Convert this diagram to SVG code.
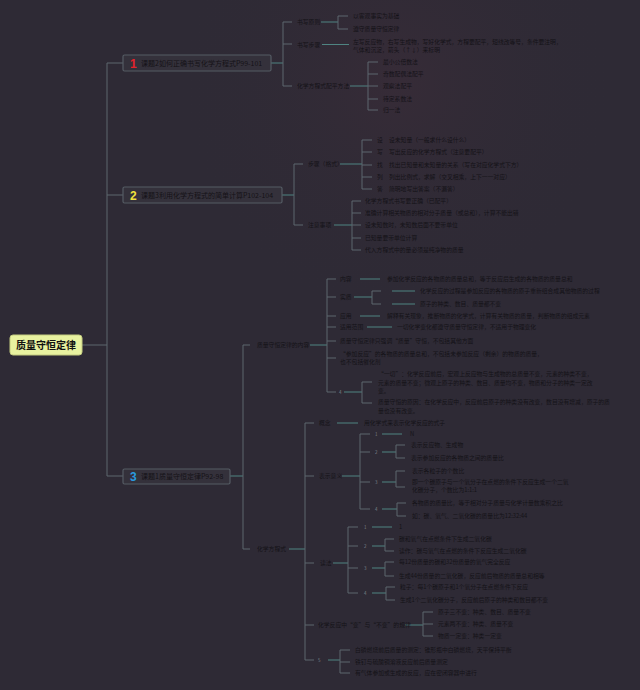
<svg xmlns="http://www.w3.org/2000/svg" width="640" height="690" viewBox="0 0 640 690">
<style>
.bg{fill:#2e2a35}
.b{stroke:#5d666e;stroke-width:1;fill:none}
.t{stroke:#4f8482;stroke-width:1;fill:none}
.box{fill:#34313b;stroke:#555c64;stroke-width:1.2}
.root{fill:#e8f2a0;stroke:#c4cc80;stroke-width:1}
text{font-family:"Noto Sans CJK SC","Liberation Sans",sans-serif}
.l{font-size:5.8px;fill:#141217}
.s{font-size:7px;fill:#141217}
.n{font-size:12px;font-weight:bold;font-family:"Liberation Sans","Noto Sans CJK SC",sans-serif}
.m{font-size:4.5px;fill:#7d838a}
.r{font-size:10px;font-weight:bold;fill:#111}
</style>
<defs>
<radialGradient id="tint" cx="0.62" cy="0.12" r="0.35">
<stop offset="0" stop-color="#3a2c38" stop-opacity="0.7"/>
<stop offset="1" stop-color="#2e2a35" stop-opacity="0"/>
</radialGradient>
</defs>
<rect class="bg" x="0" y="0" width="640" height="690"/>
<rect x="0" y="0" width="640" height="690" fill="url(#tint)"/>

<g id="connectors">
<path class="b" d="M82,345H107M107,63V476M107,63H123M107,195H123M107,476H123"/>
<path class="t" d="M271,63H283"/>
<path class="b" d="M283,22V86M283,22H292M283,44H292M283,86H292"/>
<path class="t" d="M321,22H338M322,44.5H349M350,86H368"/>
<path class="b" d="M338,16V29M338,16H348M338,29H348"/>
<path class="b" d="M368,62V110M368,62H378M368,74H378M368,86H378M368,99H378M368,110H378"/>
<path class="t" d="M282,195H294"/>
<path class="b" d="M294,164V225M294,164H303M294,225H303"/>
<path class="t" d="M340,164H362M334,225H352"/>
<path class="b" d="M362,140V189M362,140H372M362,152H372M362,165H372M362,177H372M362,189H372"/>
<path class="b" d="M352,201V250M352,201H361M352,213H361M352,225H361M352,238H361M352,250H361"/>
<path class="t" d="M230,476H243"/>
<path class="b" d="M243,345V549M243,345H250M243,549H250"/>
<path class="t" d="M310,345H327"/>
<path class="b" d="M327,279V392M327,279H336M327,297H336M327,316H336M327,327H336M327,341H336M327,358H336M327,392H336"/>
<path class="t" d="M360,279H380M354,297H372M392,291H415M392,304H415M360,316H380M367,327H392M344,392H362"/>
<path class="b" d="M372,291V304M372,291H381M372,304H381"/>
<path class="b" d="M362,382V403M362,382H372M362,403H372"/>
<path class="t" d="M289,549H305"/>
<path class="b" d="M305,423V660M305,423H314M305,476H314M305,563H314M305,625H314M305,660H314"/>
<path class="t" d="M337,423H358M342,476H360"/>
<path class="b" d="M360,434V509M360,434H370M360,452H370M360,482H370M360,509H370"/>
<path class="t" d="M382,434H402M382,452H396M382,482H396M382,509H397"/>
<path class="b" d="M396,445V458M396,445H405M396,458H405M396,471V487M396,471H405M396,487H405M397,503V516M397,503H406M397,516H406"/>
<path class="t" d="M333,563H348"/>
<path class="b" d="M348,527V593M348,527H358M348,546H358M348,568H358M348,593H358"/>
<path class="t" d="M372,527H392M372,546H385M372,568H385M372,593H386"/>
<path class="b" d="M385,539V551M385,539H394M385,551H394M385,562V576M385,562H394M385,576H394M386,587V600M386,587H395M386,600H395"/>
<path class="t" d="M405,625H423M328,660H340"/>
<path class="b" d="M423,612V636M423,612H433M423,624H433M423,636H433"/>
<path class="b" d="M340,650V673M340,650H350M340,662H350M340,673H350"/>
</g>

<g id="root">
<rect class="root" x="10" y="335" width="72" height="20" rx="3"/>
<text class="r" x="46" y="348.8" text-anchor="middle">质量守恒定律</text>
</g>

<g id="sec1">
<rect class="box" x="123" y="55" width="148" height="16" rx="1.5"/>
<text class="n" x="130" y="67.5" fill="#e3222c">1</text>
<text class="s" x="141" y="65.5">课题2如何正确书写化学方程式P99-101</text>
</g>
<g id="sec1-a">
<text class="l" x="297" y="24">书写原则</text>
<text class="l" x="353" y="18">以客观事实为基础</text>
<text class="l" x="353" y="31">遵守质量守恒定律</text>
</g>
<g id="sec1-b">
<text class="l" x="297" y="46.5">书写步骤</text>
<text class="l" x="353" y="44">左写反应物，右写生成物，写好化学式，方程要配平，短线改等号，条件要注明，</text>
<text class="l" x="353" y="52">气体和沉淀，箭头（↑↓）来标明</text>
</g>
<g id="sec1-c">
<text class="l" x="297" y="88">化学方程式配平方法</text>
<text class="l" x="383" y="64">最小公倍数法</text>
<text class="l" x="383" y="76">奇数配偶法配平</text>
<text class="l" x="383" y="88">观察法配平</text>
<text class="l" x="383" y="101">待定系数法</text>
<text class="l" x="383" y="112">归一法</text>
</g>

<g id="sec2">
<rect class="box" x="123" y="187" width="159" height="16" rx="1.5"/>
<text class="n" x="130" y="199.5" fill="#f0e23c">2</text>
<text class="s" x="141" y="197.5">课题3利用化学方程式的简单计算P102-104</text>
</g>
<g id="sec2-a">
<text class="l" x="308" y="166">步骤（格式）</text>
<text class="l" x="377" y="142">设</text><text class="l" x="389" y="142">设未知量（一般求什么设什么）</text>
<text class="l" x="377" y="154">写</text><text class="l" x="389" y="154">写出反应的化学方程式（注意要配平）</text>
<text class="l" x="377" y="167">找</text><text class="l" x="389" y="167">找出已知量和未知量的关系（写在对应化学式下方）</text>
<text class="l" x="377" y="179">列</text><text class="l" x="389" y="179">列出比例式，求解（交叉相乘，上下一一对应）</text>
<text class="l" x="377" y="191">答</text><text class="l" x="389" y="191">简明地写出答案（不漏答）</text>
</g>
<g id="sec2-b">
<text class="l" x="308" y="227">注意事项</text>
<text class="l" x="365" y="203">化学方程式书写要正确（已配平）</text>
<text class="l" x="365" y="215">准确计算相关物质的相对分子质量（或总和），计算不能出错</text>
<text class="l" x="365" y="227">设未知数时，未知数后面不要带单位</text>
<text class="l" x="365" y="240">已知量要带单位计算</text>
<text class="l" x="365" y="252">代入方程式中的量必须是纯净物的质量</text>
</g>

<g id="sec3">
<rect class="box" x="123" y="469" width="107" height="15" rx="1.5"/>
<text class="n" x="130" y="481" fill="#2a9be0">3</text>
<text class="s" x="141" y="479">课题1质量守恒定律P92-98</text>
</g>
<g id="sec3-a">
<text class="l" x="257" y="347">质量守恒定律的内容</text>
<text class="l" x="340" y="281">内容</text>
<text class="l" x="387" y="281">参加化学反应的各物质的质量总和，等于反应后生成的各物质的质量总和</text>
<text class="l" x="340" y="299">实质</text>
<text class="l" x="420" y="293">化学反应的过程是参加反应的各物质的原子重新组合成其他物质的过程</text>
<text class="l" x="420" y="306">原子的种类、数目、质量都不变</text>
<text class="l" x="340" y="318">应用</text>
<text class="l" x="387" y="318">解释有关现象，推断物质的化学式，计算有关物质的质量，判断物质的组成元素</text>
<text class="l" x="340" y="329">适用范围</text>
<text class="l" x="397" y="329">一切化学变化都遵守质量守恒定律，不适用于物理变化</text>
<text class="l" x="340" y="343">质量守恒定律只强调“质量”守恒，不包括其他方面</text>
<text class="l" x="340" y="356">“参加反应”的各物质的质量总和，不包括未参加反应（剩余）的物质的质量，</text>
<text class="l" x="340" y="364">也不包括催化剂</text>
<text class="m" x="339" y="394">4</text>
<text class="l" x="378" y="376">“一切”：化学反应前后，宏观上反应物与生成物的总质量不变，元素的种类不变，</text>
<text class="l" x="378" y="385">元素的质量不变；微观上原子的种类、数目、质量均不变，物质和分子的种类一定改</text>
<text class="l" x="378" y="393">变。</text>
<text class="l" x="378" y="404">质量守恒的原因：在化学反应中，反应前后原子的种类没有改变，数目没有增减，原子的质</text>
<text class="l" x="378" y="413">量也没有改变。</text>
</g>
<g id="sec3-b">
<text class="l" x="257" y="551">化学方程式</text>
<text class="l" x="319" y="425">概念</text>
<text class="l" x="364" y="425">用化学式来表示化学反应的式子</text>
</g>
<g id="sec3-b-meaning">
<text class="l" x="319" y="478">表示意义</text>
<text class="m" x="375" y="436">1</text>
<text class="l" x="410" y="436">N</text>
<text class="m" x="375" y="454">2</text>
<text class="l" x="411" y="447">表示反应物、生成物</text>
<text class="l" x="411" y="460">表示参加反应的各物质之间的质量比</text>
<text class="m" x="375" y="484">3</text>
<text class="l" x="412" y="472.5">表示各粒子的个数比</text>
<text class="l" x="412" y="483.5">即一个碳原子与一个氧分子在点燃的条件下反应生成一个二氧</text>
<text class="l" x="412" y="491.5">化碳分子，个数比为1:1:1</text>
<text class="m" x="375" y="511">4</text>
<text class="l" x="412" y="505">各物质的质量比，等于相对分子质量与化学计量数乘积之比</text>
<text class="l" x="412" y="518">如：碳、氧气、二氧化碳的质量比为12:32:44</text>
</g>
<g id="sec3-b-reading">
<text class="l" x="320" y="565">读法</text>
<text class="m" x="364" y="529">1</text>
<text class="l" x="399" y="529">1</text>
<text class="m" x="364" y="548">2</text>
<text class="l" x="399" y="541">碳和氧气在点燃条件下生成二氧化碳</text>
<text class="l" x="399" y="553">读作：碳与氧气在点燃的条件下反应生成二氧化碳</text>
<text class="m" x="364" y="570">3</text>
<text class="l" x="399" y="564">每12份质量的碳和32份质量的氧气完全反应</text>
<text class="l" x="399" y="578">生成44份质量的二氧化碳，反应前后物质的质量总和相等</text>
<text class="m" x="364" y="595">4</text>
<text class="l" x="400" y="589">粒子：每1个碳原子和1个氧分子在点燃条件下反应</text>
<text class="l" x="400" y="602">生成1个二氧化碳分子，反应前后原子的种类和数目都不变</text>
</g>
<g id="sec3-b-rule">
<text class="l" x="318" y="627">化学反应中“变”与“不变”的规律</text>
<text class="l" x="438" y="614">原子三不变：种类、数目、质量不变</text>
<text class="l" x="438" y="626">元素两不变：种类、质量不变</text>
<text class="l" x="438" y="638">物质一定变：种类一定变</text>
</g>
<g id="sec3-b-exp">
<text class="m" x="318" y="662">5</text>
<text class="l" x="355" y="652">白磷燃烧前后质量的测定：锥形瓶中白磷燃烧，天平保持平衡</text>
<text class="l" x="355" y="664">铁钉与硫酸铜溶液反应前后质量测定</text>
<text class="l" x="355" y="675">有气体参加或生成的反应，应在密闭容器中进行</text>
</g>
</svg>
